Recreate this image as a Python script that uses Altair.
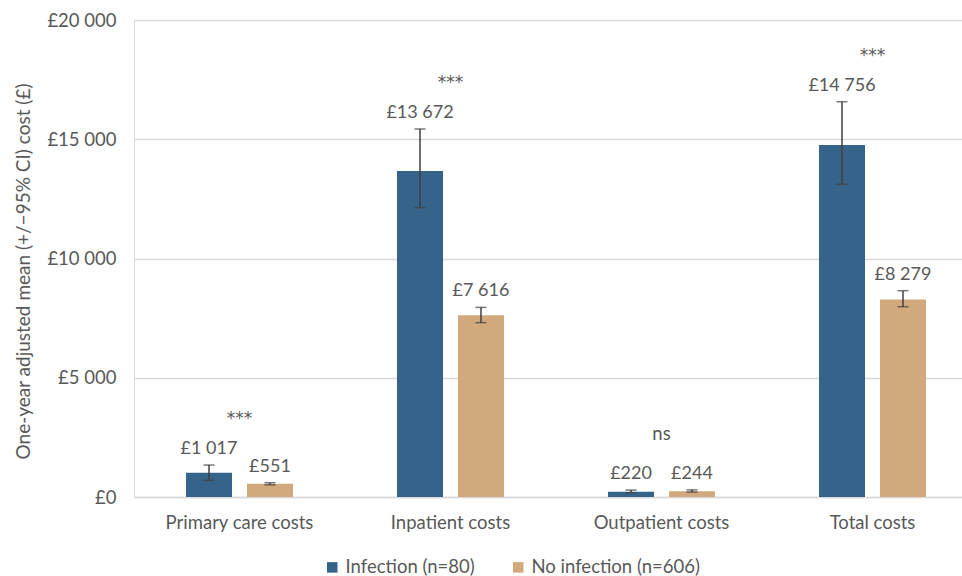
import altair as alt
import pandas as pd

categories = ["Primary care costs", "Inpatient costs", "Outpatient costs", "Total costs"]
groups = ["Infection (n=80)", "No infection (n=606)"]
infection_mean = [1017, 13672, 220, 14756]
infection_lo = [700, 12130, 175, 13110]
infection_hi = [1340, 15430, 290, 16575]
noinf_mean = [551, 7616, 244, 8279]
noinf_lo = [510, 7310, 205, 7980]
noinf_hi = [600, 7950, 300, 8650]
significance = ["***", "***", "ns", "***"]
y_ticks = [0, 5000, 10000, 15000, 20000]

colors = ["#366389", "#D2A97C"]
text_color = "#595959"
FONT = "Lato"


def gbp(v):
    return "£" + f"{v:,}".replace(",", " ")


rows = []
for i, c in enumerate(categories):
    rows.append(dict(category=c, group=groups[0], mean=infection_mean[i],
                     lo=infection_lo[i], hi=infection_hi[i], label=gbp(infection_mean[i])))
    rows.append(dict(category=c, group=groups[1], mean=noinf_mean[i],
                     lo=noinf_lo[i], hi=noinf_hi[i], label=gbp(noinf_mean[i])))
df = pd.DataFrame(rows)

sig_df = pd.DataFrame({
    "category": categories,
    "sig": significance,
    "top": [max(a, b) for a, b in zip(infection_hi, noinf_hi)],
})

x_enc = alt.X(
    "category:N", sort=categories,
    scale=alt.Scale(range=[0, 844], paddingInner=0, paddingOuter=0),
    axis=alt.Axis(title=None, labelAngle=0, labelFont=FONT, labelFontSize=18.5,
                  labelColor=text_color, labelPadding=16, ticks=False,
                  domainColor="#D9D9D9", domainWidth=1.5),
)
xoff_enc = alt.XOffset("group:N", sort=groups,
                       scale=alt.Scale(paddingInner=0.246, paddingOuter=0.853))
y_scale = alt.Scale(domain=[0, 20000], nice=False)

bars = alt.Chart(df).mark_bar().encode(
    x=x_enc,
    xOffset=xoff_enc,
    y=alt.Y("mean:Q", scale=y_scale,
            axis=alt.Axis(title="One-year adjusted mean (+/−95% CI) cost (£)",
                          values=y_ticks, domain=False, ticks=False,
                          labelExpr="'£' + replace(format(datum.value, ','), ',', ' ')",
                          labelFont=FONT, labelFontSize=18.5, labelColor=text_color,
                          labelPadding=18, titleFont=FONT, titleFontSize=19,
                          titleFontWeight="normal", titleColor=text_color,
                          titlePadding=13, titleY=251, gridColor="#D9D9D9",
                          gridWidth=1.5)),
    color=alt.Color("group:N", sort=groups, scale=alt.Scale(domain=groups, range=colors),
                    legend=alt.Legend(title=None, orient="none", direction="horizontal",
                                      legendX=189, legendY=538, symbolType="square",
                                      symbolSize=110, symbolStrokeWidth=0,
                                      labelFont=FONT, labelFontSize=18.5,
                                      labelLimit=400,
                                      labelColor=text_color, columnPadding=34,
                                      symbolOpacity=1)),
)

err = alt.Chart(df).mark_rule(color="#404040", strokeWidth=1.5).encode(
    x=alt.X("category:N", sort=categories),
    xOffset=alt.XOffset("group:N", sort=groups),
    y="lo:Q",
    y2="hi:Q",
)
cap_hi = alt.Chart(df).mark_tick(color="#404040", thickness=1.5, size=11).encode(
    x=alt.X("category:N", sort=categories),
    xOffset=alt.XOffset("group:N", sort=groups),
    y="hi:Q",
)
cap_lo = alt.Chart(df).mark_tick(color="#404040", thickness=1.5, size=11).encode(
    x=alt.X("category:N", sort=categories),
    xOffset=alt.XOffset("group:N", sort=groups),
    y="lo:Q",
)
labels = alt.Chart(df).mark_text(font=FONT, fontSize=18, color=text_color,
                                 baseline="bottom", dy=-7).encode(
    x=alt.X("category:N", sort=categories),
    xOffset=alt.XOffset("group:N", sort=groups),
    y="hi:Q",
    text="label:N",
)
sig_stars = alt.Chart(sig_df).transform_filter(alt.datum.sig == "***").mark_text(
    font="DejaVu Sans", fontSize=17, color=text_color, baseline="middle", dy=-46
).encode(
    x=alt.X("category:N", sort=categories),
    y="top:Q",
    text="sig:N",
)
sig_ns = alt.Chart(sig_df).transform_filter(alt.datum.sig != "***").mark_text(
    font=FONT, fontSize=18.5, color=text_color, baseline="middle", dy=-56
).encode(
    x=alt.X("category:N", sort=categories),
    y="top:Q",
    text="sig:N",
)

chart = alt.layer(bars, err, cap_hi, cap_lo, labels, sig_stars, sig_ns).properties(
    width=828, height=477,
    autosize=alt.AutoSizeParams(type="none"),
    padding={"left": 134, "top": 20, "right": 0, "bottom": 79},
).configure_view(stroke=None).configure(background="white")

chart.save("out.html", embed_options={"renderer": "svg", "actions": False})
